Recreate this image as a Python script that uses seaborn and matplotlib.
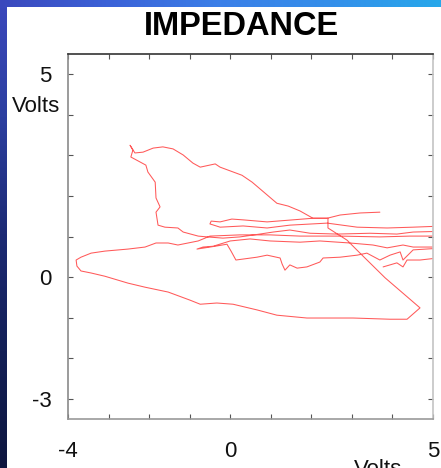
import numpy as np
import pandas as pd
import matplotlib
matplotlib.use("Agg")
import matplotlib.pyplot as plt
from matplotlib.patches import Rectangle
from matplotlib.colors import to_rgb
import seaborn as sns

# X-Y trace (volts) of the impedance loop, in drawing order
trace_x = [
    3.69, 3.20, 2.71, 2.39, 2.04, 1.55, 0.91, 0.32, 0.04, -0.25, -0.47, -0.50,
    -0.25, 0.32, 0.91, 1.47, 2.39, 3.13, 3.87, 4.51, 5.30,
    5.30, 4.51, 4.11, 3.45, 2.63, 1.97, 1.47, 1.06, 0.73, 0.24, -0.18, -0.57, -0.79,
    -1.16, -1.29, -1.61, -1.78, -1.83, -1.73, -1.83, -1.85, -2.03, -2.08, -2.45,
    -2.40, -2.47, -2.35, -2.15, -1.90, -1.66, -1.41, -1.16, -0.92, -0.74, -0.37,
    -0.25, 0.29, 0.54, 1.15, 1.43, 1.72, 2.04, 2.41, 2.41, 2.88, 3.20, 3.82, 4.68,
    4.36, 3.94, 3.03, 2.21, 1.89, 1.15, 0.66, 0.07, -0.33, -0.74, -0.99, -1.53,
    -2.10, -2.52, -3.09, -3.43, -3.68, -3.78, -3.80, -3.68, -3.43, -3.09, -2.52,
    -2.10, -1.83, -1.53, -1.29, -1.04, -0.79,
    -0.50, 0.24, 0.98, 1.72, 2.71, 3.69, 4.43, 5.30,
    5.30, 5.00, 4.51, 4.26, 3.87, 3.52, 2.95, 2.21, 1.72, 0.98, 0.49, 0.00, -0.42,
    -0.67, -0.82,
    -0.37, -0.08, 0.02, 0.14, 0.66, 0.91, 1.23, 1.28, 1.35, 1.47, 1.65, 1.89, 2.21,
    2.29, 2.71, 3.13, 3.37, 3.69, 3.94, 4.19, 4.26, 4.51, 5.30,
    5.30, 4.68, 4.36, 4.26, 4.11, 3.77,
]
trace_y = [
    1.60, 1.58, 1.53, 1.45, 1.45, 1.41, 1.36, 1.41, 1.43, 1.36, 1.38, 1.31,
    1.23, 1.26, 1.21, 1.28, 1.33, 1.23, 1.21, 1.23, 1.26,
    1.13, 1.11, 1.06, 1.08, 1.06, 1.08, 1.16, 1.11, 1.06, 0.99, 0.96, 0.99, 1.01,
    1.11, 1.21, 1.23, 1.28, 1.60, 1.73, 1.95, 2.34, 2.59, 2.76, 2.96,
    3.13, 3.25, 3.06, 3.08, 3.18, 3.21, 3.16, 3.01, 2.81, 2.71, 2.79,
    2.71, 2.51, 2.34, 1.82, 1.75, 1.63, 1.45, 1.45, 1.21, 0.91, 0.59, -0.02, -0.76,
    -1.04, -1.04, -1.01, -1.01, -1.01, -0.94, -0.81, -0.67, -0.64, -0.67, -0.57, -0.37,
    -0.25, -0.15, 0.02, 0.10, 0.15, 0.27, 0.42, 0.49, 0.59, 0.64, 0.69,
    0.74, 0.84, 0.84, 0.79, 0.84, 0.89,
    1.01, 1.04, 1.04, 1.01, 1.01, 0.99, 1.01, 1.01,
    0.76, 0.74, 0.74, 0.79, 0.72, 0.79, 0.84, 0.89, 0.86, 0.89, 0.94, 0.89, 0.76,
    0.74, 0.69,
    0.76, 0.81, 0.64, 0.42, 0.49, 0.54, 0.47, 0.32, 0.17, 0.30, 0.22, 0.25, 0.37,
    0.47, 0.49, 0.54, 0.59, 0.42, 0.54, 0.62, 0.42, 0.67, 0.72,
    0.49, 0.42, 0.42, 0.25, 0.35, 0.25,
]

x_ticks = [-4, -3, -2, -1, 0, 1, 2, 3, 4, 5]
x_ticklabels = ["-4", "", "", "", "0", "", "", "", "", "5"]
y_ticks = [-3, -2, -1, 0, 1, 2, 3, 4, 5]
y_ticklabels = ["-3", "", "", "0", "", "", "", "", "5"]

sns.set_theme(style="white")
plt.rcParams["font.family"] = ["Liberation Sans", "DejaVu Sans"]

W, H = 441, 468
fig = plt.figure(figsize=(W / 100, H / 100), dpi=100)

# slide backdrop: blue gradient frame along the top and left edges
bg = fig.add_axes([0, 0, 1, 1], zorder=-10)
bg.set_axis_off()
top_stops = [to_rgb(c) for c in ["#3b48bd", "#3a62d8", "#3b7fe8", "#348fea", "#27a8ea"]]
left_stops = [to_rgb(c) for c in ["#3b48bd", "#2c3fa0", "#1c2a74", "#131f56", "#0e163f"]]

def ramp(stops, n):
    t = np.linspace(0, 1, n)
    pos = np.linspace(0, 1, len(stops))
    arr = np.array(stops)
    return np.stack([np.interp(t, pos, arr[:, k]) for k in range(3)], axis=1)

img = np.ones((H, W, 3))
img[:, :, :] = ramp(top_stops, W)[None, :, :]
left = ramp(left_stops, H)
edge = 8
img[edge:, :edge, :] = left[edge:, None, :]
bg.imshow(img, extent=[0, 1, 0, 1], aspect="auto", interpolation="bilinear")
bg.set_xlim(0, 1)
bg.set_ylim(0, 1)
fig.patches.append(Rectangle((7 / W, 0), 1, (H - 7) / H, transform=fig.transFigure,
                             facecolor="white", edgecolor="none", zorder=-5))

ax = fig.add_axes([68 / W, (H - 419) / H, 365 / W, 365 / H])
ax.set_facecolor("white")
sns.lineplot(x=trace_x, y=trace_y, sort=False, estimator=None, ax=ax,
             color="#ff3c3c", linewidth=0.75, alpha=0.85)

ax.set_xlim(-4, 5)
ax.set_ylim(-3.5, 5.5)
ax.set_xticks(x_ticks)
ax.set_xticklabels(x_ticklabels)
ax.set_yticks(y_ticks)
ax.set_yticklabels(y_ticklabels)
ax.tick_params(axis="both", which="both", direction="in", length=3.5, width=0.8,
               color="#555555", labelsize=16, labelcolor="#111111",
               top=True, right=True, bottom=True, left=True)
ax.tick_params(axis="x", pad=16)
ax.tick_params(axis="y", pad=12)
ax.set_xlabel("")
ax.set_ylabel("")

for side, col, lw in [("top", "#333333", 1.2), ("left", "#8a8a8a", 1.2),
                      ("bottom", "#9a9a9a", 1.2), ("right", "#c4c4c4", 1.2)]:
    ax.spines[side].set_visible(True)
    ax.spines[side].set_color(col)
    ax.spines[side].set_linewidth(lw)

fig.text(241.5 / W, (H - 35) / H, "IMPEDANCE", ha="center", va="baseline",
         fontsize=23.5, fontweight="bold", color="black")
fig.text(60 / W, (H - 106) / H, "Volts", ha="right", va="center",
         fontsize=16, color="#111111")
fig.text(378 / W, (H - 459) / H, "Volts", ha="center", va="top",
         fontsize=16, color="#111111")

fig.savefig("out.png", dpi=100)
